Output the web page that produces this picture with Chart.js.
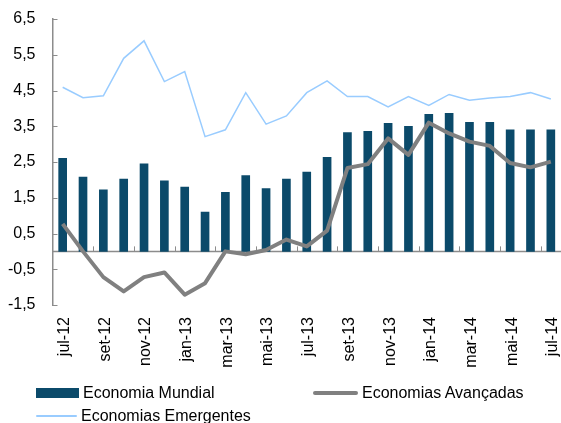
<!DOCTYPE html>
<html>
<head>
<meta charset="utf-8">
<script src="https://cdn.jsdelivr.net/npm/chart.js@4.4.1/dist/chart.umd.min.js"></script>
<style>
    body { margin: 0; background: #fff; overflow: hidden; }
    #wrap { position: relative; width: 561px; height: 423px; }
    #legend { position: absolute; left: 0; top: 0; width: 561px; height: 423px; pointer-events: none;
              font-family: 'Liberation Sans', Arial, sans-serif; font-size: 16px; color: #000; }
    .item { position: absolute; display: flex; align-items: center; white-space: nowrap; }
    .swatch { display: inline-block; margin-right: 4px; }
</style>
</head>
<body>
<div id="wrap">
    <canvas id="myChart"></canvas>
    <div id="legend"></div>
</div>
<script>
// data
const months = ['jul-12', 'ago-12', 'set-12', 'out-12', 'nov-12', 'dez-12', 'jan-13', 'fev-13', 'mar-13',
    'abr-13', 'mai-13', 'jun-13', 'jul-13', 'ago-13', 'set-13', 'out-13', 'nov-13', 'dez-13', 'jan-14',
    'fev-14', 'mar-14', 'abr-14', 'mai-14', 'jun-14', 'jul-14'];
const mundial = [2.6, 2.08, 1.72, 2.02, 2.45, 1.97, 1.8, 1.1, 1.65, 2.12, 1.76, 2.02, 2.22,
    2.63, 3.32, 3.36, 3.58, 3.5, 3.83, 3.86, 3.61, 3.61, 3.4, 3.4, 3.4];
const avancadas = [0.77, 0.0, -0.72, -1.12, -0.72, -0.59, -1.21, -0.89, 0.0, -0.08, 0.04, 0.33, 0.14,
    0.58, 2.33, 2.44, 3.16, 2.7, 3.6, 3.3, 3.07, 2.95, 2.47, 2.35, 2.51];
const emergentes = [4.59, 4.3, 4.35, 5.4, 5.89, 4.75, 5.03, 3.21, 3.4, 4.44, 3.56, 3.79, 4.44,
    4.77, 4.33, 4.33, 4.04, 4.33, 4.08, 4.39, 4.23, 4.29, 4.33, 4.44, 4.26];
const yTicks = [-1.5, -0.5, 0.5, 1.5, 2.5, 3.5, 4.5, 5.5, 6.5];

const axisColor = '#8c8c8c';

// zero line + small tick marks like the original
const axisMarks = {
    id: 'axisMarks',
    beforeDatasetsDraw(chart) {
        const { ctx, chartArea, scales: { x, y } } = chart;
        const y0 = y.getPixelForValue(0);
        ctx.save();
        ctx.strokeStyle = axisColor;
        ctx.lineWidth = 1.5;
        ctx.beginPath();
        ctx.moveTo(chartArea.left, y0);
        ctx.lineTo(chartArea.right, y0);
        ctx.stroke();
        ctx.lineWidth = 1;
        // category ticks every two months
        for (let k = 2; k < months.length; k += 2) {
            const px = Math.round((x.getPixelForValue(k - 1) + x.getPixelForValue(k)) / 2) + 0.5;
            ctx.beginPath();
            ctx.moveTo(px, y0);
            ctx.lineTo(px, y0 - 5);
            ctx.stroke();
        }
        // value ticks pointing inward
        yTicks.forEach(v => {
            const py = Math.round(y.getPixelForValue(v)) + 0.5;
            ctx.beginPath();
            ctx.moveTo(chartArea.left, py);
            ctx.lineTo(chartArea.left + 5, py);
            ctx.stroke();
        });
        ctx.restore();
    }
};

const ctx = document.getElementById('myChart').getContext('2d');
const chart = new Chart(ctx, {
    type: 'bar',
    data: {
        labels: months,
        datasets: [
            {
                type: 'bar',
                label: 'Economia Mundial',
                data: mundial,
                backgroundColor: '#0b4a6a',
                borderColor: '#0b4a6a',
                barThickness: 8,
                order: 3
            },
            {
                type: 'line',
                label: 'Economias Avançadas',
                data: avancadas,
                borderColor: '#808080',
                backgroundColor: '#808080',
                borderWidth: 4,
                pointRadius: 0,
                tension: 0,
                borderJoinStyle: 'round',
                order: 1
            },
            {
                type: 'line',
                label: 'Economias Emergentes',
                data: emergentes,
                borderColor: '#99ccff',
                backgroundColor: '#99ccff',
                borderWidth: 1.5,
                pointRadius: 0,
                tension: 0,
                order: 2
            }
        ]
    },
    options: {
        responsive: true,
        maintainAspectRatio: false,
        animation: false,
        layout: { padding: { top: 19, left: 7, right: 0, bottom: 54 } },
        plugins: {
            legend: { display: false },
            tooltip: { enabled: false }
        },
        scales: {
            x: {
                grid: { display: false, drawTicks: false },
                border: { display: false },
                afterFit: function (scale) {
                    scale.height = 64;
                    scale.paddingLeft = 0;
                    scale.paddingRight = 0;
                },
                ticks: {
                    autoSkip: false,
                    minRotation: 90,
                    maxRotation: 90,
                    padding: 12,
                    labelOffset: 2,
                    color: '#000',
                    font: { family: "'Liberation Sans', Arial, sans-serif", size: 16 },
                    callback: function (value, index) {
                        return index % 2 === 0 ? months[index] : '';
                    }
                }
            },
            y: {
                min: -1.5,
                max: 6.5,
                afterBuildTicks: function (scale) {
                    scale.ticks = yTicks.map(v => ({ value: v }));
                },
                afterFit: function (scale) {
                    scale.width = 45.5;
                    scale.paddingTop = 0;
                    scale.paddingBottom = 0;
                },
                grid: { display: false, drawTicks: false },
                border: { display: true, color: axisColor, width: 1.5 },
                ticks: {
                    padding: 17,
                    color: '#000',
                    font: { family: "'Liberation Sans', Arial, sans-serif", size: 16 },
                    callback: function (value) {
                        return value.toFixed(1).replace('.', ',');
                    }
                }
            }
        }
    },
    plugins: [axisMarks]
});

// html legend built from the datasets
const legendPos = [
    { left: 36, top: 393, w: 43, h: 10 },
    { left: 313, top: 393, w: 45, h: 4 },
    { left: 36, top: 416, w: 41, h: 1.5 }
];
const legend = document.getElementById('legend');
chart.data.datasets.forEach((ds, i) => {
    const p = legendPos[i];
    const item = document.createElement('div');
    item.className = 'item';
    item.style.left = p.left + 'px';
    item.style.top = (p.top - 10) + 'px';
    item.style.height = '20px';
    const sw = document.createElement('span');
    sw.className = 'swatch';
    sw.style.width = p.w + 'px';
    sw.style.height = p.h + 'px';
    sw.style.background = ds.borderColor;
    if (ds.type === 'line') sw.style.borderRadius = '2px';
    const txt = document.createElement('span');
    txt.textContent = ds.label;
    item.appendChild(sw);
    item.appendChild(txt);
    legend.appendChild(item);
});
</script>
</body>
</html>
